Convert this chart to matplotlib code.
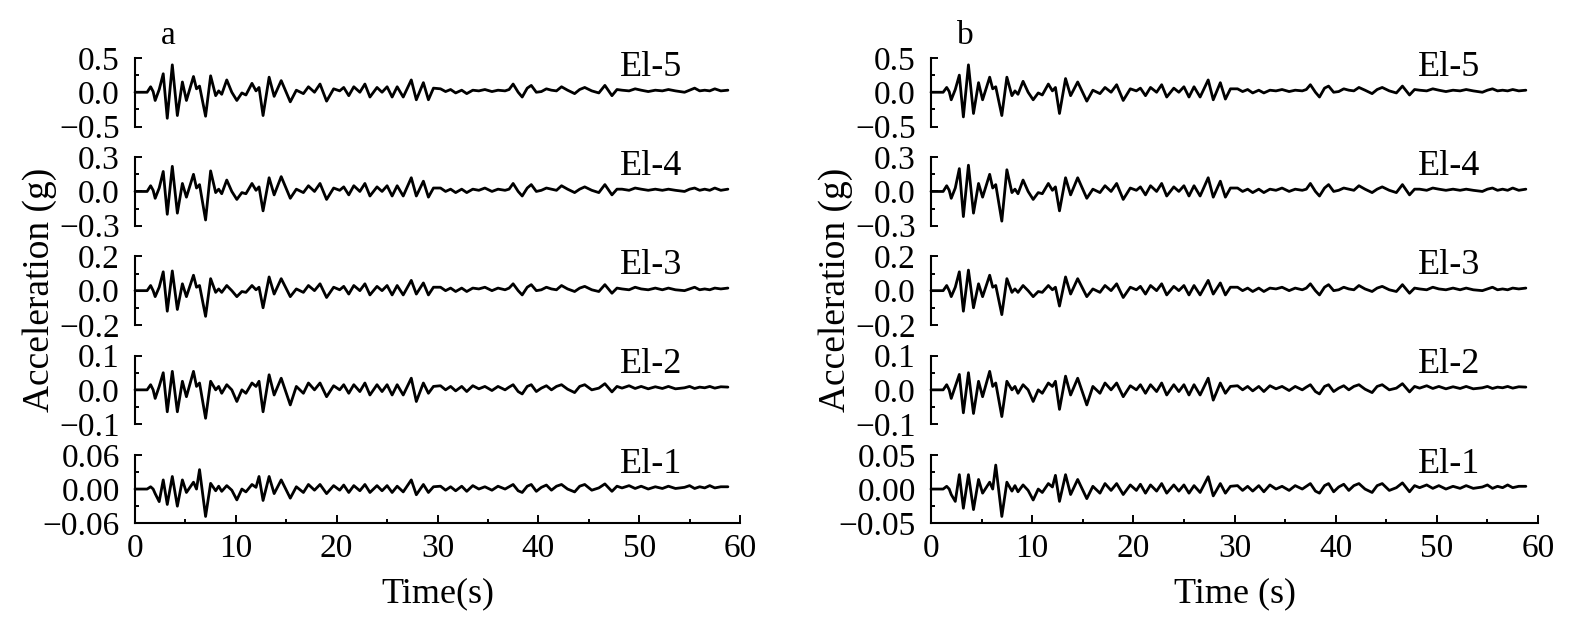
"""
Acceleration records at five elevations (El-1 ... El-5) for two cases,
a and b, drawn as two stacks of time histories.
"""

import matplotlib.pyplot as plt
from matplotlib.ticker import MultipleLocator

plt.rcParams['font.family'] = ['Liberation Serif', 'DejaVu Serif']


### Data

# Times (s) of the turning points traced along every record
time_points = [
   0, 1.2, 1.55, 1.8, 2.0, 2.4, 2.8, 3.2, 3.7, 4.2,
   4.7, 5.1, 5.8, 6.1, 6.4, 7.0, 7.5, 8.0, 8.3, 8.6,
   9.1, 9.6, 10.1, 10.6, 11.0, 11.6, 12.0, 12.3, 12.7, 13.3,
   13.8, 14.5, 15.4, 16.0, 16.7, 17.2, 17.8, 18.35, 19.0, 19.7,
   20.3, 20.7, 21.2, 21.7, 22.3, 22.8, 23.3, 24.0, 24.5, 25.0,
   25.5, 26.0, 26.6, 27.4, 27.9, 28.6, 29.1, 29.6,
   30.3, 30.8, 31.3, 31.8, 32.4, 32.9, 33.5, 34.1, 34.7, 35.4,
   36.0, 36.7, 37.1, 37.5, 38.0, 38.4, 38.9, 39.3, 39.8, 40.3,
   40.8, 41.3, 41.8, 42.3, 42.9, 43.6, 44.1, 44.6, 45.3, 46.0,
   46.6, 47.3, 47.8, 48.3, 49.0, 49.6, 50.2, 50.9, 51.6, 52.3,
   52.9, 53.6, 54.5, 55.0, 55.5, 56.0, 56.5, 57.0, 57.5, 58.1,
   58.8]

# Panel a, acceleration (g)
a_el5 = [
   0, 0, 0.08, 0.01, -0.12, 0.04, 0.27, -0.38, 0.40, -0.34,
   0.15, -0.12, 0.23, 0.05, 0.09, -0.35, 0.24, -0.05, 0.02, -0.03,
   0.18, 0.0, -0.12, -0.01, -0.04, 0.13, 0.02, 0.07, -0.34, 0.22,
   -0.06, 0.17, -0.14, 0.03, -0.02, 0.08, 0.0, 0.12, -0.13, 0.05,
   0.02, 0.07, -0.05, 0.08, 0.0, 0.12, -0.07, 0.07, 0.0, 0.08,
   -0.07, 0.08, -0.07, 0.18, -0.11, 0.14, -0.11, 0.06,
   0.05, 0.01, 0.04, -0.01, 0.03, -0.02, 0.03, 0.02, 0.04, 0.01,
   0.03, 0.02, 0.04, 0.12, 0.0, -0.07, 0.06, 0.10, 0.0, 0.01,
   0.05, 0.03, 0.02, 0.08, 0.03, -0.02, 0.04, 0.07, 0.02, -0.01,
   0.10, -0.05, 0.04, 0.03, 0.02, 0.05, 0.03, 0.01, 0.03, 0.02,
   0.04, 0.02, 0.0, 0.03, 0.06, 0.02, 0.03, 0.02, 0.05, 0.02,
   0.03]
a_el4 = [
   0, 0, 0.05, 0.01, -0.06, 0.03, 0.175, -0.20, 0.22, -0.19,
   0.07, -0.05, 0.15, 0.03, 0.06, -0.25, 0.18, -0.01, 0.02, -0.02,
   0.10, 0.0, -0.07, -0.01, -0.02, 0.07, 0.01, 0.04, -0.17, 0.12,
   -0.03, 0.13, -0.06, 0.02, -0.01, 0.05, 0.0, 0.07, -0.07, 0.03,
   0.01, 0.04, -0.03, 0.05, 0.0, 0.07, -0.04, 0.04, 0.0, 0.05,
   -0.04, 0.05, -0.04, 0.12, -0.04, 0.09, -0.05, 0.03,
   0.03, 0.0, 0.02, -0.01, 0.02, -0.01, 0.02, 0.01, 0.03, 0.0,
   0.02, 0.01, 0.02, 0.07, 0.0, -0.04, 0.03, 0.06, 0.0, 0.01,
   0.03, 0.02, 0.01, 0.05, 0.02, -0.01, 0.02, 0.04, 0.01, -0.01,
   0.06, -0.03, 0.02, 0.02, 0.01, 0.03, 0.02, 0.01, 0.02, 0.01,
   0.02, 0.01, 0.0, 0.02, 0.03, 0.01, 0.02, 0.01, 0.03, 0.01,
   0.02]
a_el3 = [
   0, 0, 0.03, 0.0, -0.035, 0.02, 0.11, -0.12, 0.115, -0.11,
   0.04, -0.035, 0.09, 0.02, 0.03, -0.15, 0.07, -0.01, 0.01, -0.01,
   0.03, 0.0, -0.035, -0.005, -0.01, 0.03, 0.005, 0.02, -0.10, 0.08,
   -0.02, 0.07, -0.035, 0.01, -0.01, 0.03, 0.0, 0.04, -0.04, 0.02,
   0.005, 0.025, -0.02, 0.03, 0.0, 0.04, -0.025, 0.025, 0.0, 0.03,
   -0.025, 0.03, -0.025, 0.06, -0.02, 0.045, -0.025, 0.02,
   0.02, 0.0, 0.015, -0.005, 0.015, -0.005, 0.015, 0.01, 0.02, 0.0,
   0.015, 0.005, 0.015, 0.04, 0.0, -0.025, 0.02, 0.035, 0.0, 0.005,
   0.02, 0.01, 0.005, 0.03, 0.01, -0.005, 0.015, 0.025, 0.005, -0.005,
   0.035, -0.015, 0.015, 0.01, 0.005, 0.02, 0.01, 0.005, 0.015, 0.005,
   0.015, 0.005, 0.0, 0.01, 0.02, 0.005, 0.01, 0.005, 0.015, 0.01,
   0.015]
a_el2 = [
   0, 0, 0.015, 0.0, -0.025, 0.01, 0.05, -0.064, 0.054, -0.064,
   0.025, -0.02, 0.054, 0.01, 0.02, -0.083, 0.025, 0.0, 0.01, -0.01,
   0.015, 0.0, -0.034, 0.0, -0.01, 0.02, 0.01, 0.025, -0.064, 0.044,
   -0.015, 0.034, -0.044, 0.01, -0.01, 0.02, 0.0, 0.02, -0.02, 0.012,
   0.0, 0.015, -0.01, 0.015, -0.005, 0.02, -0.015, 0.015, -0.005, 0.015,
   -0.015, 0.015, -0.015, 0.034, -0.034, 0.02, -0.01, 0.01,
   0.012, 0.0, 0.01, -0.003, 0.01, -0.005, 0.012, 0.003, 0.01, -0.002,
   0.01, 0.0, 0.008, 0.015, -0.005, -0.012, 0.01, 0.015, -0.005, 0.005,
   0.012, 0.0, 0.01, 0.015, 0.002, -0.008, 0.01, 0.015, 0.0, 0.005,
   0.018, -0.006, 0.01, 0.005, 0.012, 0.004, 0.01, 0.003, 0.009, 0.004,
   0.01, 0.003, 0.006, 0.01, 0.004, 0.008, 0.006, 0.01, 0.005, 0.009,
   0.008]
a_el1 = [
   0, 0, 0.004, 0.0, -0.008, -0.022, 0.016, -0.027, 0.022, -0.03,
   0.016, -0.006, 0.012, 0.0, 0.034, -0.048, 0.01, -0.003, 0.005, -0.004,
   0.006, -0.002, -0.019, 0.0, -0.005, 0.008, 0.003, 0.022, -0.02, 0.022,
   -0.008, 0.016, -0.016, 0.004, -0.006, 0.008, -0.002, 0.008, -0.008, 0.006,
   -0.002, 0.007, -0.006, 0.006, -0.003, 0.008, -0.006, 0.006, -0.003, 0.006,
   -0.006, 0.005, -0.005, 0.016, -0.01, 0.008, -0.006, 0.004,
   0.005, -0.002, 0.004, -0.003, 0.005, -0.004, 0.006, 0.0, 0.004, -0.002,
   0.005, 0.0, 0.004, 0.008, -0.003, -0.006, 0.005, 0.008, -0.004, 0.003,
   0.007, -0.002, 0.005, 0.008, 0.0, -0.005, 0.005, 0.008, -0.002, 0.002,
   0.009, -0.004, 0.005, 0.002, 0.006, 0.001, 0.005, 0.0, 0.004, 0.001,
   0.005, 0.001, 0.003, 0.006, 0.001, 0.004, 0.002, 0.006, 0.002, 0.004,
   0.004]

# Panel b, acceleration (g)
b_el5 = [
   0, 0, 0.07, 0.01, -0.11, 0.04, 0.25, -0.36, 0.40, -0.31,
   0.14, -0.11, 0.22, 0.05, 0.08, -0.34, 0.22, -0.05, 0.02, -0.03,
   0.16, 0.0, -0.11, -0.01, -0.04, 0.12, 0.02, 0.07, -0.31, 0.20,
   -0.05, 0.15, -0.13, 0.03, -0.02, 0.07, 0.0, 0.11, -0.12, 0.05,
   0.02, 0.06, -0.05, 0.07, 0.0, 0.11, -0.07, 0.06, 0.0, 0.08,
   -0.07, 0.08, -0.07, 0.18, -0.11, 0.14, -0.10, 0.05,
   0.05, 0.01, 0.04, -0.01, 0.03, -0.01, 0.03, 0.02, 0.04, 0.01,
   0.03, 0.02, 0.04, 0.11, 0.0, -0.07, 0.06, 0.09, 0.0, 0.01,
   0.05, 0.03, 0.02, 0.07, 0.03, -0.02, 0.04, 0.07, 0.02, -0.01,
   0.09, -0.04, 0.04, 0.03, 0.02, 0.05, 0.03, 0.01, 0.03, 0.02,
   0.04, 0.02, 0.0, 0.03, 0.05, 0.02, 0.03, 0.02, 0.04, 0.02,
   0.03]
b_el4 = [
   0, 0, 0.05, 0.01, -0.06, 0.03, 0.20, -0.22, 0.23, -0.19,
   0.07, -0.05, 0.15, 0.03, 0.06, -0.26, 0.19, -0.01, 0.02, -0.02,
   0.10, 0.0, -0.07, -0.01, -0.02, 0.07, 0.01, 0.04, -0.17, 0.12,
   -0.03, 0.12, -0.06, 0.02, -0.01, 0.05, 0.0, 0.07, -0.07, 0.03,
   0.01, 0.04, -0.03, 0.05, 0.0, 0.07, -0.04, 0.04, 0.0, 0.05,
   -0.04, 0.05, -0.04, 0.12, -0.05, 0.09, -0.05, 0.03,
   0.03, 0.0, 0.02, -0.01, 0.02, -0.01, 0.02, 0.01, 0.03, 0.0,
   0.02, 0.01, 0.02, 0.07, 0.0, -0.04, 0.03, 0.06, 0.0, 0.01,
   0.03, 0.02, 0.01, 0.05, 0.02, -0.01, 0.02, 0.04, 0.01, -0.01,
   0.06, -0.03, 0.02, 0.02, 0.01, 0.03, 0.02, 0.01, 0.02, 0.01,
   0.02, 0.01, 0.0, 0.02, 0.03, 0.01, 0.02, 0.01, 0.03, 0.01,
   0.02]
b_el3 = [
   0, 0, 0.03, 0.0, -0.035, 0.02, 0.11, -0.12, 0.12, -0.10,
   0.04, -0.035, 0.09, 0.02, 0.03, -0.14, 0.07, -0.01, 0.01, -0.01,
   0.03, 0.0, -0.035, -0.005, -0.01, 0.03, 0.005, 0.02, -0.09, 0.08,
   -0.02, 0.07, -0.035, 0.01, -0.01, 0.03, 0.0, 0.04, -0.04, 0.02,
   0.005, 0.025, -0.02, 0.03, 0.0, 0.04, -0.025, 0.025, 0.0, 0.03,
   -0.025, 0.03, -0.025, 0.06, -0.02, 0.045, -0.025, 0.02,
   0.02, 0.0, 0.015, -0.005, 0.015, -0.005, 0.015, 0.01, 0.02, 0.0,
   0.015, 0.005, 0.015, 0.04, 0.0, -0.025, 0.02, 0.035, 0.0, 0.005,
   0.02, 0.01, 0.005, 0.03, 0.01, -0.005, 0.015, 0.025, 0.005, -0.005,
   0.035, -0.015, 0.015, 0.01, 0.005, 0.02, 0.01, 0.005, 0.015, 0.005,
   0.015, 0.005, 0.0, 0.01, 0.02, 0.005, 0.01, 0.005, 0.015, 0.01,
   0.015]
b_el2 = [
   0, 0, 0.015, 0.0, -0.025, 0.01, 0.045, -0.067, 0.05, -0.069,
   0.025, -0.02, 0.054, 0.01, 0.02, -0.078, 0.025, 0.0, 0.01, -0.01,
   0.015, 0.0, -0.034, 0.0, -0.01, 0.02, 0.01, 0.025, -0.057, 0.04,
   -0.015, 0.034, -0.044, 0.01, -0.01, 0.02, 0.0, 0.02, -0.02, 0.012,
   0.0, 0.015, -0.01, 0.015, -0.005, 0.02, -0.015, 0.015, -0.005, 0.015,
   -0.015, 0.015, -0.015, 0.034, -0.03, 0.02, -0.01, 0.01,
   0.012, 0.0, 0.01, -0.003, 0.01, -0.005, 0.012, 0.003, 0.01, -0.002,
   0.01, 0.0, 0.008, 0.015, -0.005, -0.012, 0.01, 0.015, -0.005, 0.005,
   0.012, 0.0, 0.01, 0.015, 0.002, -0.008, 0.01, 0.015, 0.0, 0.005,
   0.018, -0.006, 0.01, 0.005, 0.012, 0.004, 0.01, 0.003, 0.009, 0.004,
   0.01, 0.003, 0.006, 0.01, 0.004, 0.008, 0.006, 0.01, 0.005, 0.009,
   0.008]
b_el1 = [
   0, 0, 0.004, 0.0, -0.008, -0.018, 0.021, -0.028, 0.021, -0.03,
   0.014, -0.006, 0.01, 0.0, 0.035, -0.04, 0.01, -0.003, 0.005, -0.004,
   0.006, -0.002, -0.016, 0.0, -0.005, 0.008, 0.003, 0.02, -0.018, 0.021,
   -0.008, 0.014, -0.014, 0.004, -0.006, 0.008, -0.002, 0.008, -0.008, 0.006,
   -0.002, 0.007, -0.006, 0.006, -0.003, 0.008, -0.006, 0.006, -0.003, 0.006,
   -0.006, 0.005, -0.005, 0.018, -0.01, 0.008, -0.006, 0.004,
   0.005, -0.002, 0.004, -0.003, 0.005, -0.004, 0.006, 0.0, 0.004, -0.002,
   0.005, 0.0, 0.004, 0.008, -0.003, -0.006, 0.005, 0.008, -0.004, 0.003,
   0.007, -0.002, 0.005, 0.008, 0.0, -0.005, 0.005, 0.008, -0.002, 0.002,
   0.009, -0.004, 0.005, 0.002, 0.006, 0.001, 0.005, 0.0, 0.004, 0.001,
   0.005, 0.001, 0.003, 0.006, 0.001, 0.004, 0.002, 0.006, 0.002, 0.004,
   0.004]

# Stacks from top to bottom
record_names = ['El-5', 'El-4', 'El-3', 'El-2', 'El-1']
a_records = [a_el5, a_el4, a_el3, a_el2, a_el1]
b_records = [b_el5, b_el4, b_el3, b_el2, b_el1]
a_limits = [0.5, 0.3, 0.2, 0.1, 0.06]
b_limits = [0.5, 0.3, 0.2, 0.1, 0.05]
time_ticks = [0, 10, 20, 30, 40, 50, 60]


### Plotting

W, H = 1576, 625
fig = plt.figure(figsize=(W / 100, H / 100), dpi=100)


def tick_label(value, limit):
   """
   Tick text with as many decimals as the limit needs and a real minus sign.
   """
   decimals = 2 if limit < 0.1 else 1
   return '{:.{}f}'.format(value, decimals).replace('-', '\u2212')


def draw_stack(left, width, records, limits, xlabel):
   for i, (name, record, limit) in enumerate(zip(record_names, records, limits)):
      assert len(record) == len(time_points), name
      top = 58 + 99.2 * i
      ax = fig.add_axes([left / W, 1 - (top + 68.5) / H, width / W, 68.5 / H])
      ax.plot(time_points, record, color='black', lw=2.0, clip_on=False,
              solid_joinstyle='round', solid_capstyle='round')
      ax.set_xlim(0, 60)
      ax.set_ylim(-limit, limit)
      ax.set_yticks([-limit, 0, limit])
      ax.set_yticklabels([tick_label(v, limit) for v in (-limit, 0, limit)])
      ax.yaxis.set_minor_locator(MultipleLocator(limit / 2))
      ax.tick_params(axis='y', which='both', direction='in', width=1.4,
                     labelsize=24, pad=11)
      ax.tick_params(axis='y', which='major', length=5)
      ax.tick_params(axis='y', which='minor', length=3)
      for side in ['top', 'right']:
         ax.spines[side].set_visible(False)
      ax.spines['left'].set_linewidth(1.5)
      ax.patch.set_visible(False)
      ax.text(0.853, 0.74, name, transform=ax.transAxes, ha='center',
              va='baseline', fontsize=26)
      if i < 4:
         ax.spines['bottom'].set_visible(False)
         ax.set_xticks([])
      else:
         ax.spines['bottom'].set_linewidth(1.5)
         ax.set_xticks(time_ticks)
         ax.xaxis.set_minor_locator(MultipleLocator(5))
         ax.tick_params(axis='x', which='both', direction='in', width=1.4,
                        labelsize=24, pad=7)
         ax.tick_params(axis='x', which='major', length=6)
         ax.tick_params(axis='x', which='minor', length=3)
         ax.set_xlabel(xlabel, fontsize=26, labelpad=10)


draw_stack(135, 605, a_records, a_limits, 'Time(s)')
draw_stack(931, 607, b_records, b_limits, 'Time (s)')

fig.text(40 / W, 1 - 290 / H, 'Acceleration (g)', rotation=90,
         ha='center', va='center', fontsize=27)
fig.text(836 / W, 1 - 290 / H, 'Acceleration (g)', rotation=90,
         ha='center', va='center', fontsize=27)
fig.text(168 / W, 1 - 36 / H, 'a', ha='center', va='center', fontsize=24)
fig.text(965 / W, 1 - 36 / H, 'b', ha='center', va='center', fontsize=24)

fig.savefig('out.png', dpi=100, facecolor='white')
